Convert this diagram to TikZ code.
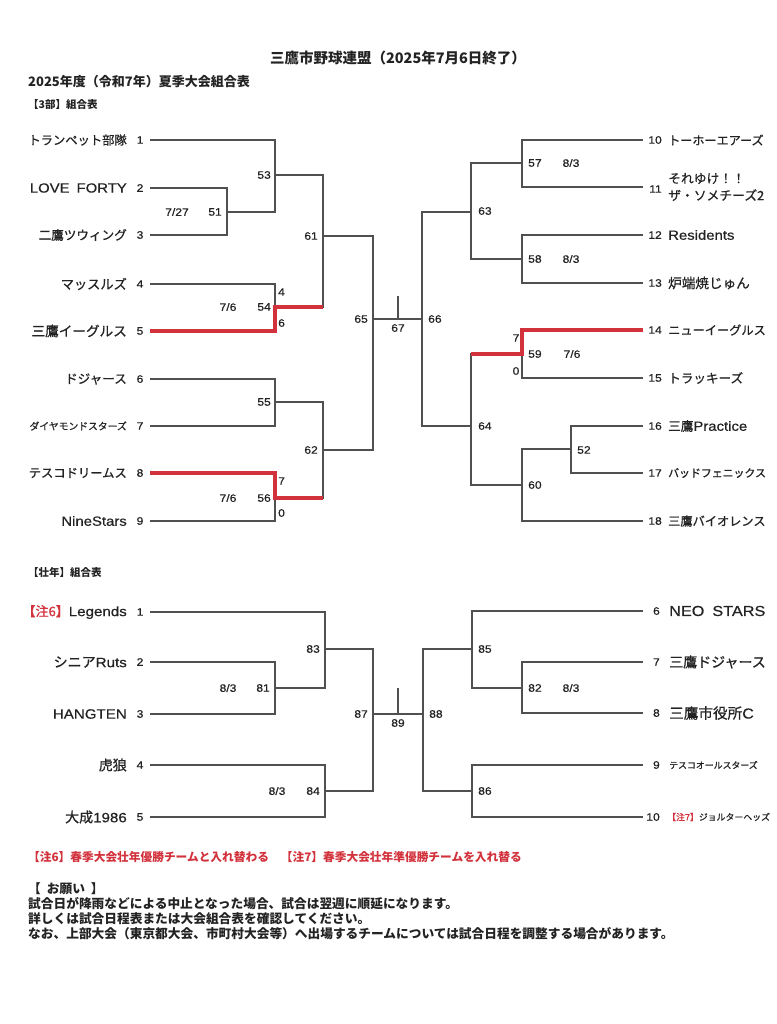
\documentclass[tikz,border=0pt]{standalone}
\usepackage{fontspec}
\setmainfont{Noto Sans CJK JP}
\newfontfamily\jpm[FakeBold=0.7]{Noto Sans CJK JP}
\newfontfamily\lat[FakeStretch=1.12,FakeBold=0.5]{Liberation Sans}
\definecolor{ln}{RGB}{80,80,80}
\definecolor{rd}{RGB}{210,50,60}
\definecolor{tx}{RGB}{35,35,35}
\tikzset{
  bl/.style={draw=ln, line width=1.2pt},
  win/.style={draw=rd, line width=3.8pt},
  mn/.style={font=\lat\fontsize{10.8}{11}\selectfont, text=tx, inner sep=0pt},
  tn/.style={font=\jpm\fontsize{12.6}{13}\selectfont, text=tx, inner sep=0pt},
  tnb/.style={font=\jpm\fontsize{14}{15}\selectfont, text=tx, inner sep=0pt},
  hd/.style={font=\bfseries\fontsize{13}{14}\selectfont, text=tx, inner sep=0pt, anchor=west},
  hs/.style={font=\bfseries\fontsize{10.5}{11}\selectfont, text=tx, inner sep=0pt, anchor=west},
  nt/.style={font=\bfseries\fontsize{12.7}{13}\selectfont, text=tx, inner sep=0pt, anchor=west},
}
\begin{document}
\begin{tikzpicture}[x=1pt,y=-1pt]
\useasboundingbox (0,0) rectangle (776,1024);
\fill[white] (0,0) rectangle (776,1024);

% ---------- headings ----------
\node[font=\bfseries\fontsize{14.5}{15}\selectfont, text=tx, inner sep=0pt] (title) at (398,58) {三鷹市野球連盟（2025年7月6日終了）};
\node[hd] (sub) at (28,82) {2025年度（令和7年）夏季大会組合表};
\node[hs] (h3) at (28,105) {【3部】組合表};

% ---------- 3部 coordinates ----------
\coordinate (L1) at (150,140); \coordinate (L2) at (150,188); \coordinate (L3) at (150,235);
\coordinate (L4) at (150,284); \coordinate (L5) at (150,331); \coordinate (L6) at (150,379);
\coordinate (L7) at (150,426); \coordinate (L8) at (150,473); \coordinate (L9) at (150,521);
\coordinate (m51) at (227,212); \coordinate (m53) at (275,175); \coordinate (m54) at (275,307);
\coordinate (m55) at (275,402); \coordinate (m56) at (275,498); \coordinate (m61) at (323,236);
\coordinate (m62) at (323,450); \coordinate (m65) at (373,319); \coordinate (m66) at (422,319);
\coordinate (t67) at (398,296);
\coordinate (m63) at (471,212); \coordinate (m64) at (471,426);
\coordinate (m57) at (522,163); \coordinate (m58) at (522,259); \coordinate (m59) at (522,354);
\coordinate (m60) at (522,485); \coordinate (m52) at (571,449);
\coordinate (R10) at (643,140); \coordinate (R11) at (643,187); \coordinate (R12) at (643,235);
\coordinate (R13) at (643,283); \coordinate (R14) at (643,330); \coordinate (R15) at (643,378);
\coordinate (R16) at (643,426); \coordinate (R17) at (643,473); \coordinate (R18) at (643,521);

% lines
\draw[bl] (L1) -| (m53); \draw[bl] (L2) -| (m51); \draw[bl] (L3) -| (m51);
\draw[bl] (m51) -| (m53);
\draw[bl] (L4) -| (m54); \draw[bl] (L5) -| (m54);
\draw[bl] (L6) -| (m55); \draw[bl] (L7) -| (m55);
\draw[bl] (L8) -| (m56); \draw[bl] (L9) -| (m56);
\draw[bl] (m53) -| (m61); \draw[bl] (m54) -| (m61);
\draw[bl] (m55) -| (m62); \draw[bl] (m56) -| (m62);
\draw[bl] (m61) -| (m65); \draw[bl] (m62) -| (m65);
\draw[bl] (m65) -- (m66);
\draw[bl] (t67) -- (t67 |- m65);
\draw[bl] (m63) -| (m66); \draw[bl] (m64) -| (m66);
\draw[bl] (m57) -| (m63); \draw[bl] (m58) -| (m63);
\draw[bl] (m59) -| (m64); \draw[bl] (m60) -| (m64);
\draw[bl] (R10) -| (m57); \draw[bl] (R11) -| (m57);
\draw[bl] (R12) -| (m58); \draw[bl] (R13) -| (m58);
\draw[bl] (R14) -| (m59); \draw[bl] (R15) -| (m59);
\draw[bl] (R16) -| (m52); \draw[bl] (R17) -| (m52);
\draw[bl] (m52) -| (m60); \draw[bl] (R18) -| (m60);
% winners
\draw[win] (L5) -| (m54) -- (m54 -| m61);
\draw[win] (L8) -| (m56) -- (m56 -| m62);
\draw[win] (R14) -| (m59) -- (m59 -| m64);

% left teams
\node[tn, anchor=east, font=\jpm\fontsize{12.3}{13}\selectfont] (n1) at (127,140) {トランペット部隊};
\node[tn, anchor=east] (n2) at (127,188) {\lat\fontsize{13.3}{14}\selectfont LOVE\hspace{7pt}FORTY};
\node[tn, anchor=east] (n3) at (127,235) {二鷹ツウィング};
\node[tn, anchor=east, font=\jpm\fontsize{13.2}{14}\selectfont] (n4) at (127,284) {マッスルズ};
\node[tn, anchor=east, font=\jpm\fontsize{13.6}{14}\selectfont] (n5) at (127,331) {三鷹イーグルス};
\node[tn, anchor=east] (n6) at (127,379) {ドジャース};
\node[tn, anchor=east, font=\jpm\fontsize{9.8}{10}\selectfont] (n7) at (127,426) {ダイヤモンドスターズ};
\node[tn, anchor=east, font=\jpm\fontsize{12.3}{13}\selectfont] (n8) at (127,473) {テスコドリームス};
\node[tn, anchor=east] (n9) at (127,521) {\lat\fontsize{13.3}{14}\selectfont NineStars};
\foreach \i/\y in {1/140,2/188,3/235,4/284,5/331,6/379,7/426,8/473,9/521}
  \node[mn] (s\i) at (140,\y) {\i};

% right teams
\foreach \i/\y in {10/140,11/189,12/235,13/283,14/330,15/378,16/426,17/473,18/521}
  \node[mn, anchor=east] (s\i) at (662,\y) {\i};
\node[tn, anchor=west, font=\jpm\fontsize{12.1}{13}\selectfont] (n10) at (668,140) {トーホーエアーズ};
\node[tn, anchor=west, align=left, font=\jpm\fontsize{12.8}{17}\selectfont] (n11) at (668,187) {それゆけ！！\\ザ・ソメチーズ2};
\node[tn, anchor=west] (n12) at (668,235) {\lat\fontsize{13.3}{14}\selectfont Residents};
\node[tn, anchor=west, font=\jpm\fontsize{13.6}{14}\selectfont] (n13) at (668,283) {炉端焼じゅん};
\node[tn, anchor=west, font=\jpm\fontsize{12.2}{13}\selectfont] (n14) at (668,330) {ニューイーグルス};
\node[tn, anchor=west] (n15) at (668,378) {トラッキーズ};
\node[tn, anchor=west] (n16) at (668,426) {三鷹{\lat\fontsize{13.3}{14}\selectfont Practice}};
\node[tn, anchor=west, font=\jpm\fontsize{10.9}{11}\selectfont] (n17) at (668,473) {バッドフェニックス};
\node[tn, anchor=west, font=\jpm\fontsize{12.2}{13}\selectfont] (n18) at (668,521) {三鷹バイオレンス};

% match labels
\node[mn, anchor=east] (l53) at (271,175) {53};
\node[mn, anchor=east] (l51) at (222,212) {51};
\node[mn] (d51) at (177,212) {7/27};
\node[mn, anchor=east] (l61) at (318,236) {61};
\node[mn, anchor=west] (sc54a) at (278,292) {4};
\node[mn, anchor=east] (l54) at (271,307) {54};
\node[mn] (d54) at (228,307) {7/6};
\node[mn, anchor=west] (sc54b) at (278,323) {6};
\node[mn, anchor=east] (l55) at (271,402) {55};
\node[mn, anchor=east] (l62) at (318,450) {62};
\node[mn, anchor=west] (sc56a) at (278,481) {7};
\node[mn, anchor=east] (l56) at (271,498) {56};
\node[mn] (d56) at (228,498) {7/6};
\node[mn, anchor=west] (sc56b) at (278,513) {0};
\node[mn, anchor=east] (l65) at (368,319) {65};
\node[mn] (l67) at (398,328) {67};
\node[mn, anchor=west] (l66) at (428,319) {66};
\node[mn, anchor=west] (l57) at (528,163) {57};
\node[mn] (d57) at (571,163) {8/3};
\node[mn, anchor=west] (l63) at (478,211) {63};
\node[mn, anchor=west] (l58) at (528,259) {58};
\node[mn] (d58) at (571,259) {8/3};
\node[mn] (sc59a) at (516,338) {7};
\node[mn, anchor=west] (l59) at (528,354) {59};
\node[mn] (d59) at (572,354) {7/6};
\node[mn] (sc59b) at (516,371) {0};
\node[mn, anchor=west] (l64) at (478,426) {64};
\node[mn, anchor=west] (l52) at (577,450) {52};
\node[mn, anchor=west] (l60) at (528,485) {60};

% ---------- 壮年 ----------
\node[hs] (hs2) at (28,572) {【壮年】組合表};

\coordinate (P1) at (150,612); \coordinate (P2) at (150,662); \coordinate (P3) at (150,714);
\coordinate (P4) at (150,765); \coordinate (P5) at (150,817);
\coordinate (m81) at (275,688); \coordinate (m83) at (325,649); \coordinate (m84) at (325,791);
\coordinate (m87) at (373,714); \coordinate (m88) at (423,714); \coordinate (t89) at (398,688);
\coordinate (m85) at (472,649); \coordinate (m82) at (522,688); \coordinate (m86) at (472,791);
\coordinate (Q6) at (643,611); \coordinate (Q7) at (643,662); \coordinate (Q8) at (643,713);
\coordinate (Q9) at (643,765); \coordinate (Q10) at (643,817);

\draw[bl] (P1) -| (m83); \draw[bl] (P2) -| (m81); \draw[bl] (P3) -| (m81);
\draw[bl] (m81) -| (m83);
\draw[bl] (P4) -| (m84); \draw[bl] (P5) -| (m84);
\draw[bl] (m83) -| (m87); \draw[bl] (m84) -| (m87);
\draw[bl] (m87) -- (m88);
\draw[bl] (t89) -- (t89 |- m87);
\draw[bl] (m85) -| (m88); \draw[bl] (m86) -| (m88);
\draw[bl] (Q6) -| (m85); \draw[bl] (m82) -| (m85);
\draw[bl] (Q7) -| (m82); \draw[bl] (Q8) -| (m82);
\draw[bl] (Q9) -| (m86); \draw[bl] (Q10) -| (m86);

\node[tnb, anchor=east] (p1) at (127,612) {{\color{rd}\fontsize{13}{14}\selectfont【注6】}{\lat\fontsize{13.5}{14}\selectfont Legends}};
\node[tnb, anchor=east] (p2) at (127,662) {シニア{\lat\fontsize{13.5}{14}\selectfont Ruts}};
\node[tnb, anchor=east] (p3) at (127,714) {\lat\fontsize{13.5}{14}\selectfont HANGTEN};
\node[tnb, anchor=east] (p4) at (127,765) {虎狼};
\node[tnb, anchor=east] (p5) at (127,817) {大成{\lat\fontsize{13.5}{14}\selectfont 1986}};
\foreach \i/\y in {1/612,2/662,3/714,4/765,5/817}
  \node[mn] (u\i) at (140,\y) {\i};

\foreach \i/\y in {6/611,7/662,8/713,9/765,10/817}
  \node[mn, anchor=east] (u\i) at (660,\y) {\i};
\node[tnb, anchor=west] (q6) at (669,611) {\lat\fontsize{14.5}{15}\selectfont NEO\hspace{8pt}STARS};
\node[tnb, anchor=west] (q7) at (669,662) {三鷹ドジャース};
\node[tnb, anchor=west, font=\jpm\fontsize{14.6}{15}\selectfont] (q8) at (669,713) {三鷹市役所{\lat\fontsize{14.5}{15}\selectfont C}};
\node[tnb, anchor=west, font=\jpm\fontsize{8.9}{9}\selectfont] (q9) at (669,765) {テスコオールスターズ};
\node[tnb, anchor=west, font=\jpm\fontsize{8.9}{9}\selectfont] (q10) at (667,817) {{\color{rd}【注7】}ジョルターヘッズ};

\node[mn, anchor=east] (l83) at (320,649) {83};
\node[mn] (d81) at (228,688) {8/3};
\node[mn, anchor=east] (l81) at (270,688) {81};
\node[mn, anchor=east] (l87) at (368,714) {87};
\node[mn] (l89) at (398,723) {89};
\node[mn] (d84) at (277,791) {8/3};
\node[mn, anchor=east] (l84) at (320,791) {84};
\node[mn, anchor=west] (l85) at (478,649) {85};
\node[mn, anchor=west] (l88) at (429,714) {88};
\node[mn, anchor=west] (l82) at (528,688) {82};
\node[mn] (d82) at (571,688) {8/3};
\node[mn, anchor=west] (l86) at (478,791) {86};

% ---------- notes ----------
\node[nt, text=rd, font=\bfseries\fontsize{11.7}{12}\selectfont] (note) at (28,857) {【注6】春季大会壮年優勝チームと入れ替わる\hspace{12pt}【注7】春季大会壮年準優勝チームを入れ替る};
\node[nt] (req) at (28,889) {【\hspace{6pt}お願い\hspace{6pt}】};
\node[nt] (r1) at (28,904) {試合日が降雨などによる中止となった場合、試合は翌週に順延になります。};
\node[nt] (r2) at (28,919) {詳しくは試合日程表または大会組合表を確認してください。};
\node[nt] (r3) at (28,934) {なお、上部大会（東京都大会、市町村大会等）へ出場するチームについては試合日程を調整する場合があります。};
\end{tikzpicture}
\end{document}
